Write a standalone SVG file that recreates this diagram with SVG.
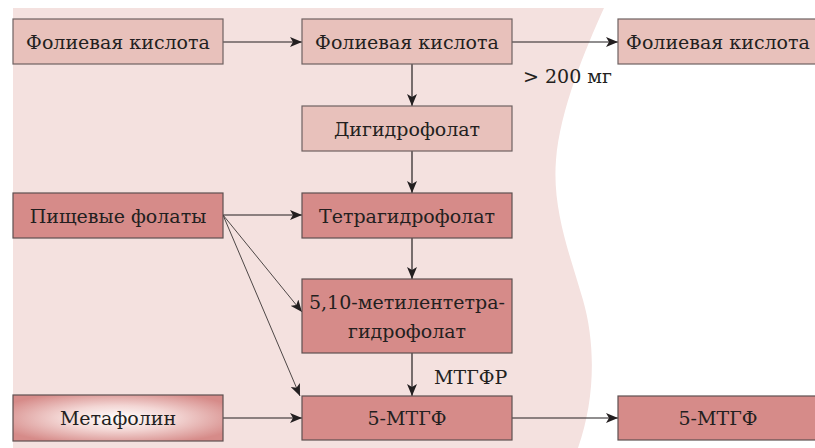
<svg xmlns="http://www.w3.org/2000/svg" width="815" height="448" viewBox="0 0 815 448">
<defs>
<marker id="ah" viewBox="0 0 12 10" refX="12" refY="5" markerWidth="12" markerHeight="10" markerUnits="userSpaceOnUse" orient="auto">
<path d="M0,0 L12,5 L0,10 L3,5 Z" fill="#231f20"/>
</marker>
<radialGradient id="mg" cx="0.5" cy="0.5" r="0.6" fx="0.5" fy="0.5">
<stop offset="0" stop-color="#ffffff"/>
<stop offset="0.45" stop-color="#f3d6d4"/>
<stop offset="1" stop-color="#d68b89"/>
</radialGradient>
<style>
.light{fill:#e8c1bb;stroke:#6e6262;stroke-width:1.2}
.dark{fill:#d68b89;stroke:#5e5050;stroke-width:1.2}
.meta{fill:url(#mg);stroke:#5e5050;stroke-width:1.2}
.t{font-family:"DejaVu Serif",serif;font-size:19px;fill:#231f20;text-anchor:middle}
.lbl{text-anchor:start}
.c line{stroke:#231f20;stroke-width:1.2;marker-end:url(#ah)}
.c .thin{stroke-width:0.8}
</style>
</defs>
<rect width="815" height="448" fill="#ffffff"/>
<path d="M13,8 L604,8 C585,50 560,110 556,160 C552,210 570,255 583,300 C596,345 595,400 578,448 L13,448 Z" fill="#f4e1df"/>
<g class="c">
<line x1="223" y1="42" x2="302" y2="42"/>
<line x1="512" y1="42" x2="618" y2="42"/>
<line x1="412" y1="64" x2="412" y2="106"/>
<line x1="412" y1="151" x2="412" y2="193"/>
<line x1="223" y1="215" x2="302" y2="215"/>
<line x1="412" y1="238" x2="412" y2="279"/>
<line class="thin" x1="223" y1="215" x2="302" y2="312"/>
<line class="thin" x1="223" y1="215" x2="300" y2="396"/>
<line x1="412" y1="353" x2="412" y2="396"/>
<line x1="223" y1="418" x2="302" y2="418"/>
<line x1="512" y1="418" x2="618" y2="418"/>
</g>
<g id="n1"><rect class="light" x="13" y="19" width="210" height="45"/><text class="t" x="118" y="48.5">Фолиевая кислота</text></g>
<g id="n2"><rect class="light" x="302" y="19" width="210" height="45"/><text class="t" x="407" y="48.5">Фолиевая кислота</text></g>
<g id="n3"><rect class="light" x="618" y="19" width="210" height="45"/><text class="t" x="718" y="48.5">Фолиевая кислота</text></g>
<g id="n4"><rect class="light" x="302" y="106" width="210" height="45"/><text class="t" x="407" y="135.5">Дигидрофолат</text></g>
<g id="n5"><rect class="dark" x="13" y="193" width="210" height="45"/><text class="t" x="118" y="222.5">Пищевые фолаты</text></g>
<g id="n6"><rect class="dark" x="302" y="193" width="210" height="45"/><text class="t" x="407" y="222.5">Тетрагидрофолат</text></g>
<g id="n7"><rect class="dark" x="302" y="279" width="210" height="74"/><text class="t" x="407" y="308.5">5,10-метилентетра-</text><text class="t" x="407" y="337.5">гидрофолат</text></g>
<g id="n8"><rect class="meta" x="13" y="395" width="210" height="46"/><text class="t" x="118" y="424.5">Метафолин</text></g>
<g id="n9"><rect class="dark" x="302" y="396" width="210" height="44"/><text class="t" x="407" y="424.5">5-МТГФ</text></g>
<g id="n10"><rect class="dark" x="618" y="396" width="210" height="44"/><text class="t" x="718" y="424.5">5-МТГФ</text></g>
<text class="t lbl" x="523" y="82.5">&gt; 200 мг</text>
<text class="t lbl" x="434" y="383.5">МТГФР</text>
</svg>
